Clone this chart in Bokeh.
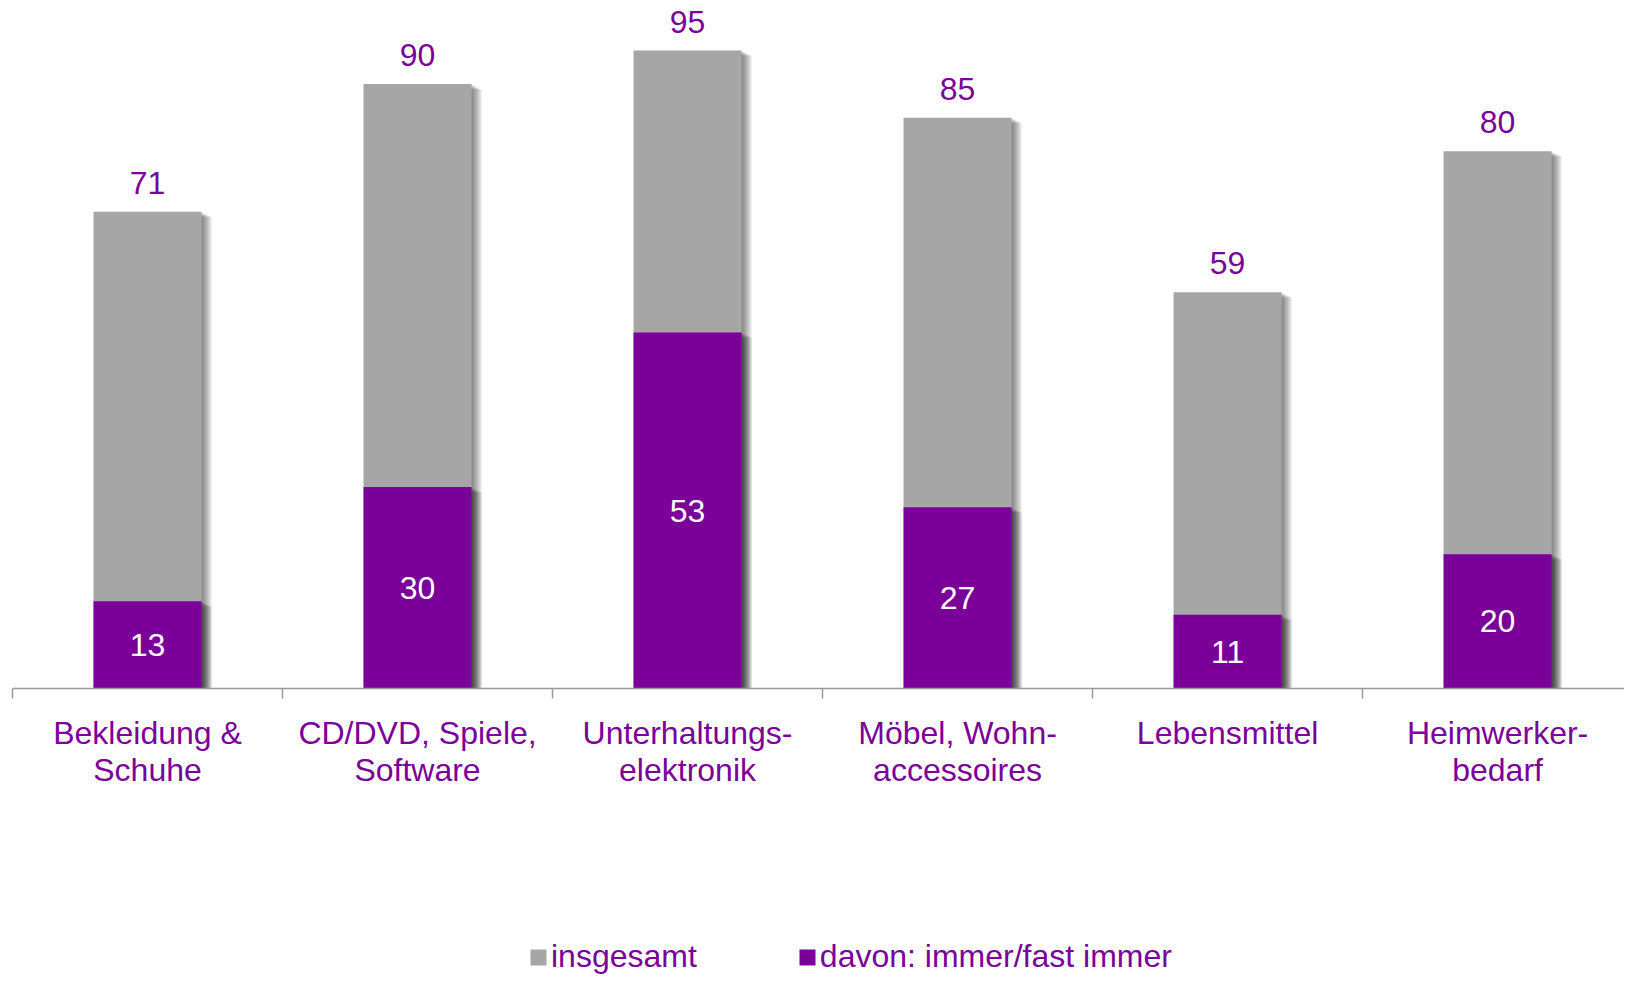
from bokeh.plotting import figure
from bokeh.layouts import column
from bokeh.models import FixedTicker, Legend, LegendItem, Range1d
from bokeh.embed import file_html
from bokeh.resources import INLINE
from bokeh.core.properties import value

categories = ["Bekleidung &\nSchuhe", "CD/DVD, Spiele,\nSoftware", "Unterhaltungs-\nelektronik",
              "Möbel, Wohn-\naccessoires", "Lebensmittel", "Heimwerker-\nbedarf"]
insgesamt = [71, 90, 95, 85, 59, 80]
immer = [13, 30, 53, 27, 11, 20]
series_names = ["insgesamt", "davon: immer/fast immer"]

GRAY = "#A6A6A6"
PURPLE = "#7B0099"
FONT = "Liberation Sans"
FS = "32px"

n = len(categories)
x = [i + 0.5 for i in range(n)]
PX = 1 / 270.0  # one pixel in x units

p = figure(width=1624, height=880, output_backend="svg", toolbar_location=None,
           x_range=Range1d(0, 5.97), y_range=Range1d(0, 102.45),
           y_axis_location=None, min_border_left=12, min_border_right=0,
           min_border_top=0, min_border_bottom=192)
p.outline_line_color = None
p.xgrid.visible = False
p.ygrid.visible = False


def shadow(tops, alpha):
    for k in range(1, 6):
        p.vbar(x=[xi + 2 * k * PX for xi in x], top=[t - 0.15 * k for t in tops], bottom=0,
               width=0.4, fill_color="black", fill_alpha=alpha, line_color=None)


shadow(insgesamt, 0.11)
r_total = p.vbar(x=x, top=insgesamt, width=0.4, fill_color=GRAY, line_color=None)
shadow(immer, 0.11)
r_immer = p.vbar(x=x, top=immer, width=0.4, fill_color=PURPLE, line_color=None)

p.text(x=x, y=insgesamt, text=[str(v) for v in insgesamt], y_offset=-29,
       text_align="center", text_baseline="middle", text_color=PURPLE,
       text_font=value(FONT), text_font_size=value(FS))
p.text(x=x, y=[v / 2 for v in immer], text=[str(v) for v in immer],
       text_align="center", text_baseline="middle", text_color="white",
       text_font=value(FONT), text_font_size=value(FS))

ax = p.xaxis[0]
ax.ticker = FixedTicker(ticks=x, minor_ticks=list(range(n + 1)))
ax.major_label_overrides = {xi: c for xi, c in zip(x, categories)}
ax.major_tick_line_color = None
ax.major_tick_out = 0
ax.major_tick_in = 0
ax.minor_tick_out = 10
ax.minor_tick_in = 0
ax.minor_tick_line_color = "#999999"
ax.minor_tick_line_width = 1.5
ax.axis_line_color = "#999999"
ax.axis_line_width = 1.5
ax.major_label_standoff = 16
ax.major_label_text_font = FONT
ax.major_label_text_font_size = FS
ax.major_label_text_color = PURPLE
ax.major_label_text_line_height = 1.03

# legend strip
q = figure(width=1624, height=95, output_backend="svg", toolbar_location=None,
           x_range=Range1d(0, 1), y_range=Range1d(0, 1),
           x_axis_location=None, y_axis_location=None,
           min_border_left=0, min_border_right=0, min_border_top=0, min_border_bottom=0)
q.outline_line_color = None
q.xgrid.visible = False
q.ygrid.visible = False
# legend proxies, placed outside the visible range
l_total = q.vbar(x=[-5], top=[-5], bottom=[-6], width=0.1, fill_color=GRAY, line_color=None)
l_immer = q.vbar(x=[-5], top=[-5], bottom=[-6], width=0.1, fill_color=PURPLE, line_color=None)

legend = Legend(items=[LegendItem(label=series_names[0], renderers=[l_total]),
                       LegendItem(label=series_names[1], renderers=[l_immer])],
                orientation="horizontal", location=(516, 0),
                glyph_width=20, glyph_height=20, label_standoff=3, spacing=100,
                padding=0, margin=0, border_line_color=None, background_fill_alpha=0,
                label_text_font=FONT, label_text_font_size=FS, label_text_color=PURPLE)
q.add_layout(legend, "center")

layout = column(p, q, spacing=0)
open("out.html", "w").write(file_html(layout, INLINE))
